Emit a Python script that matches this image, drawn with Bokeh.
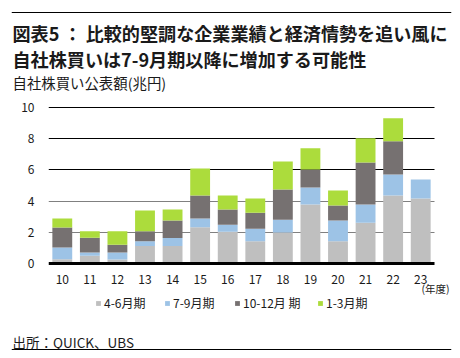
from bokeh.plotting import figure
from bokeh.layouts import column
from bokeh.models import (Label, FixedTicker, Legend, LegendItem, Range1d,
                          ColumnDataSource, Grid)
from bokeh.embed import file_html
from bokeh.resources import INLINE

# ---- data ----
years = [10, 11, 12, 13, 14, 15, 16, 17, 18, 19, 20, 21, 22, 23]
year_labels = ["10", "11", "12", "13", "14", "15", "16", "17", "18", "19", "20", "21", "22", "23"]
q_apr_jun = [0.28, 0.50, 0.26, 1.12, 1.12, 2.32, 2.04, 1.42, 1.98, 3.78, 1.42, 2.62, 4.36, 4.16]
q_jul_sep = [0.75, 0.21, 0.45, 0.30, 0.51, 0.56, 0.45, 0.81, 0.83, 1.09, 1.33, 1.16, 1.35, 1.22]
q_oct_dec = [1.27, 0.94, 0.49, 0.64, 1.12, 1.48, 0.97, 1.03, 1.93, 1.16, 0.96, 2.70, 2.12, 0.0]
q_jan_mar = [0.58, 0.41, 0.86, 1.33, 0.71, 1.73, 0.90, 0.90, 1.80, 1.35, 0.97, 1.55, 1.48, 0.0]
series_names = ["4-6月期", "7-9月期", "10-12月 期", "1-3月期"]
y_ticks = [0, 2, 4, 6, 8, 10]
grid_gray = [2, 4]
grid_dark = [6, 8, 10]

title1 = "図表5 ： 比較的堅調な企業業績と経済情勢を追い風に"
title2 = "自社株買いは7-9月期以降に増加する可能性"
subtitle = "自社株買い公表額(兆円)"
unit_label = "(年度)"
source_text = "出所：QUICK、UBS"

colors = ["#bfbfbf", "#9dc3e6", "#767171", "#acdc3c"]
FONT = "Noto Sans CJK JP"
TXT = "#1a1a1a"

W = 460
HEAD_BOTTOM = 98      # header strip: 0..98
CHART_BOTTOM = 320    # chart strip: 98..320
TOTAL_H = 358
RULE_L, RULE_R = 11, 451

src = ColumnDataSource(dict(x=years, a=q_apr_jun, b=q_jul_sep, c=q_oct_dec, d=q_jan_mar))
geom = {}


def no_align(f):
    if "frame_align" in f.properties():
        f.frame_align = False


def strip(top, bottom):
    # frame spans the rule width, so x data == screen px
    h = bottom - top
    f = figure(width=W, height=h, x_range=Range1d(RULE_L, RULE_R), y_range=Range1d(0, h),
               output_backend="svg", toolbar_location=None,
               x_axis_location=None, y_axis_location=None,
               min_border=0, min_border_left=RULE_L, min_border_right=W - RULE_R,
               min_border_top=0, min_border_bottom=0)
    f.grid.visible = False
    f.outline_line_color = None
    no_align(f)
    geom[f.id] = (top, h)
    return f


def add_label(f, text, px, py, size, weight="normal", align="left"):
    top, h = geom[f.id]
    f.add_layout(Label(x=px, y=h - (py - top), text=text, text_font=FONT,
                       text_font_size=size, text_font_style=weight, text_baseline="middle",
                       text_align=align, text_color=TXT))


def add_rule(f, py):
    top, h = geom[f.id]
    f.hspan(y=[h - (py - top)], line_color="black", line_width=1.2)


# ---- header ----
head = strip(0, HEAD_BOTTOM)
add_rule(head, 12)
add_label(head, title1, 12, 32, "18.1px", "bold")
add_label(head, title2, 12, 58, "18.1px", "bold")
add_label(head, subtitle, 12, 82, "14.4px")

# ---- chart ----
FR_LEFT, FR_TOP = 48, 102
ZERO_PX, TEN_PX = 263, 107
PX_X = (434 - 48) / 14.0
PX_Y = (ZERO_PX - TEN_PX) / 10.0
x_start = 9.5
x_end = x_start + (W - FR_LEFT) / PX_X
y_end = (ZERO_PX - FR_TOP) / PX_Y
y_start = -(CHART_BOTTOM - ZERO_PX) / PX_Y

p = figure(width=W, height=CHART_BOTTOM - HEAD_BOTTOM,
           x_range=Range1d(x_start, x_end), y_range=Range1d(y_start, y_end),
           output_backend="svg", toolbar_location=None,
           min_border_left=FR_LEFT, min_border_right=0,
           min_border_top=FR_TOP - HEAD_BOTTOM, min_border_bottom=0)
p.outline_line_color = None
no_align(p)

renderers = p.vbar_stack(["a", "b", "c", "d"], x="x", width=0.72, source=src,
                         fill_color=colors, line_color=None)

has_cb = "cross_bounds" in Grid.properties()
p.xgrid.visible = False
p.ygrid.ticker = FixedTicker(ticks=grid_gray)
p.ygrid.grid_line_color = "#808080"
dark_grid = Grid(dimension=1, ticker=FixedTicker(ticks=grid_dark), grid_line_color="black",
                 level="underlay")
p.add_layout(dark_grid)
if has_cb:
    p.ygrid.cross_bounds = (9.5, 23.5)
    dark_grid.cross_bounds = (9.5, 23.5)

p.xaxis.fixed_location = 0
p.xaxis.bounds = (9.5, 23.5)
p.xaxis.ticker = FixedTicker(ticks=years)
p.xaxis.major_label_overrides = {y: s for y, s in zip(years, year_labels)}
p.xaxis.axis_line_width = 3
p.xaxis.axis_line_color = "black"
p.xaxis.major_tick_line_color = None
p.xaxis.minor_tick_line_color = None
p.xaxis.major_tick_out = 0
p.xaxis.major_tick_in = 0
p.xaxis.major_label_standoff = 11
p.xaxis.major_label_text_font = FONT
p.xaxis.major_label_text_font_size = "12px"
p.xaxis.major_label_text_color = TXT

p.yaxis.ticker = FixedTicker(ticks=y_ticks)
p.yaxis.bounds = (0, 10)
p.yaxis.axis_line_color = None
p.yaxis.major_tick_line_color = None
p.yaxis.minor_tick_line_color = None
p.yaxis.major_tick_out = 0
p.yaxis.major_tick_in = 0
p.yaxis.major_label_standoff = 14
p.yaxis.major_label_text_font = FONT
p.yaxis.major_label_text_font_size = "12px"
p.yaxis.major_label_text_color = TXT

# unit label
p.add_layout(Label(x=x_start + (449 - FR_LEFT) / PX_X, y=(ZERO_PX - 288) / PX_Y, text=unit_label,
                   text_font=FONT, text_font_size="10.5px", text_baseline="middle",
                   text_align="right", text_color=TXT))

# legend (one per item, for exact placement)
legend_x = [95, 164, 234, 317]
LEG_Y = 304
LH = 14
for name, r, lx in zip(series_names, renderers, legend_x):
    lg = Legend(items=[LegendItem(label=name, renderers=[r])],
                location=(lx - FR_LEFT, CHART_BOTTOM - LEG_Y - LH / 2),
                glyph_width=6, glyph_height=6, label_standoff=3,
                label_height=LH, label_width=10,
                padding=0, margin=0, border_line_color=None, background_fill_alpha=0,
                label_text_font=FONT, label_text_font_size="12px", label_text_color=TXT)
    p.add_layout(lg, "center")

# ---- footer ----
foot = strip(CHART_BOTTOM, TOTAL_H)
add_label(foot, source_text, 12, 341, "13.5px")
add_rule(foot, 349)

layout = column(head, p, foot, spacing=0)
open("out.html", "w").write(file_html(layout, INLINE))
